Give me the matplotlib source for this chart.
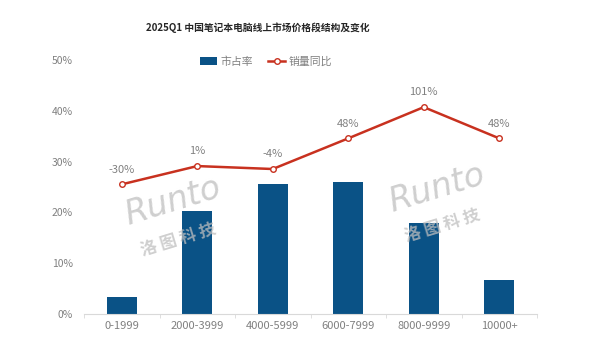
import matplotlib.pyplot as plt
import numpy as np

plt.rcParams['font.family'] = ['Noto Sans CJK SC', 'DejaVu Sans']

# 价格段结构数据
segments = ['0-1999', '2000-3999', '4000-5999', '6000-7999', '8000-9999', '10000+']
share = [3.4, 20.3, 25.5, 26.0, 17.9, 6.7]      # 市占率 (%)
yoy = [-30, 1, -4, 48, 101, 48]                  # 销量同比 (%)

bar_color = '#0A5286'
line_color = '#C8311F'
text_gray = '#808080'

fig = plt.figure(figsize=(6, 3.42), dpi=100)
ax = fig.add_axes([0.14, 0.0819, 0.755, 0.7427])

x = np.arange(len(segments))
bars = ax.bar(x, share, width=0.4, color=bar_color, label='市占率', zorder=2)

ax.set_xlim(-0.5, len(segments) - 0.5)
ax.set_ylim(0, 50)
ax.set_yticks(range(0, 51, 10))
ax.set_yticklabels([f'{v}%' for v in range(0, 51, 10)], color=text_gray, fontsize=7.5)
ax.tick_params(axis='y', length=0, pad=8)
ax.set_xticks(x)
ax.set_xticklabels(segments, color=text_gray, fontsize=8)
ax.set_xticks(np.arange(-0.5, len(segments), 1), minor=True)
ax.tick_params(axis='x', which='major', length=0, pad=5)
ax.tick_params(axis='x', which='minor', length=3, color='#d9d9d9')
for s in ['top', 'right', 'left']:
    ax.spines[s].set_visible(False)
ax.spines['bottom'].set_color('#d9d9d9')

# 次坐标轴: 销量同比
ax2 = ax.twinx()
ax2.set_ylim(-250, 181)
line, = ax2.plot(x, yoy, color=line_color, lw=1.8, marker='o', ms=4,
                 mfc='white', mec=line_color, mew=1, label='销量同比', zorder=3)
ax2.axis('off')
for xi, v in zip(x, yoy):
    ax2.annotate(f'{v}%', (xi, v), xytext=(0, 7), textcoords='offset points',
                 ha='center', va='bottom', fontsize=8, color=text_gray)

fig.text(0.43, 0.92, '2025Q1 中国笔记本电脑线上市场价格段结构及变化',
         ha='center', va='center', fontsize=7, fontweight='bold', color='#262626')

fig.legend(handles=[bars, line], loc='center', bbox_to_anchor=(0.443, 0.82),
           ncol=2, frameon=False, fontsize=7.8, labelcolor=text_gray,
           handlelength=1.6, handletextpad=0.3, columnspacing=1.4)

# 水印
for cx, cy in [(0.287, 0.37), (0.727, 0.41)]:
    fig.text(cx, cy + 0.04, 'Runto', ha='center', va='center', rotation=17,
             fontsize=24, fontstyle='italic', color='#bfbfbf', alpha=0.75,
             family='DejaVu Sans', fontweight='light', zorder=5)
    fig.text(cx + 0.01, cy - 0.07, '洛 图 科 技', ha='center', va='center', rotation=17,
             fontsize=12, fontweight='bold', color='#bfbfbf', alpha=0.75, zorder=5)

fig.savefig('out.png', dpi=100)
